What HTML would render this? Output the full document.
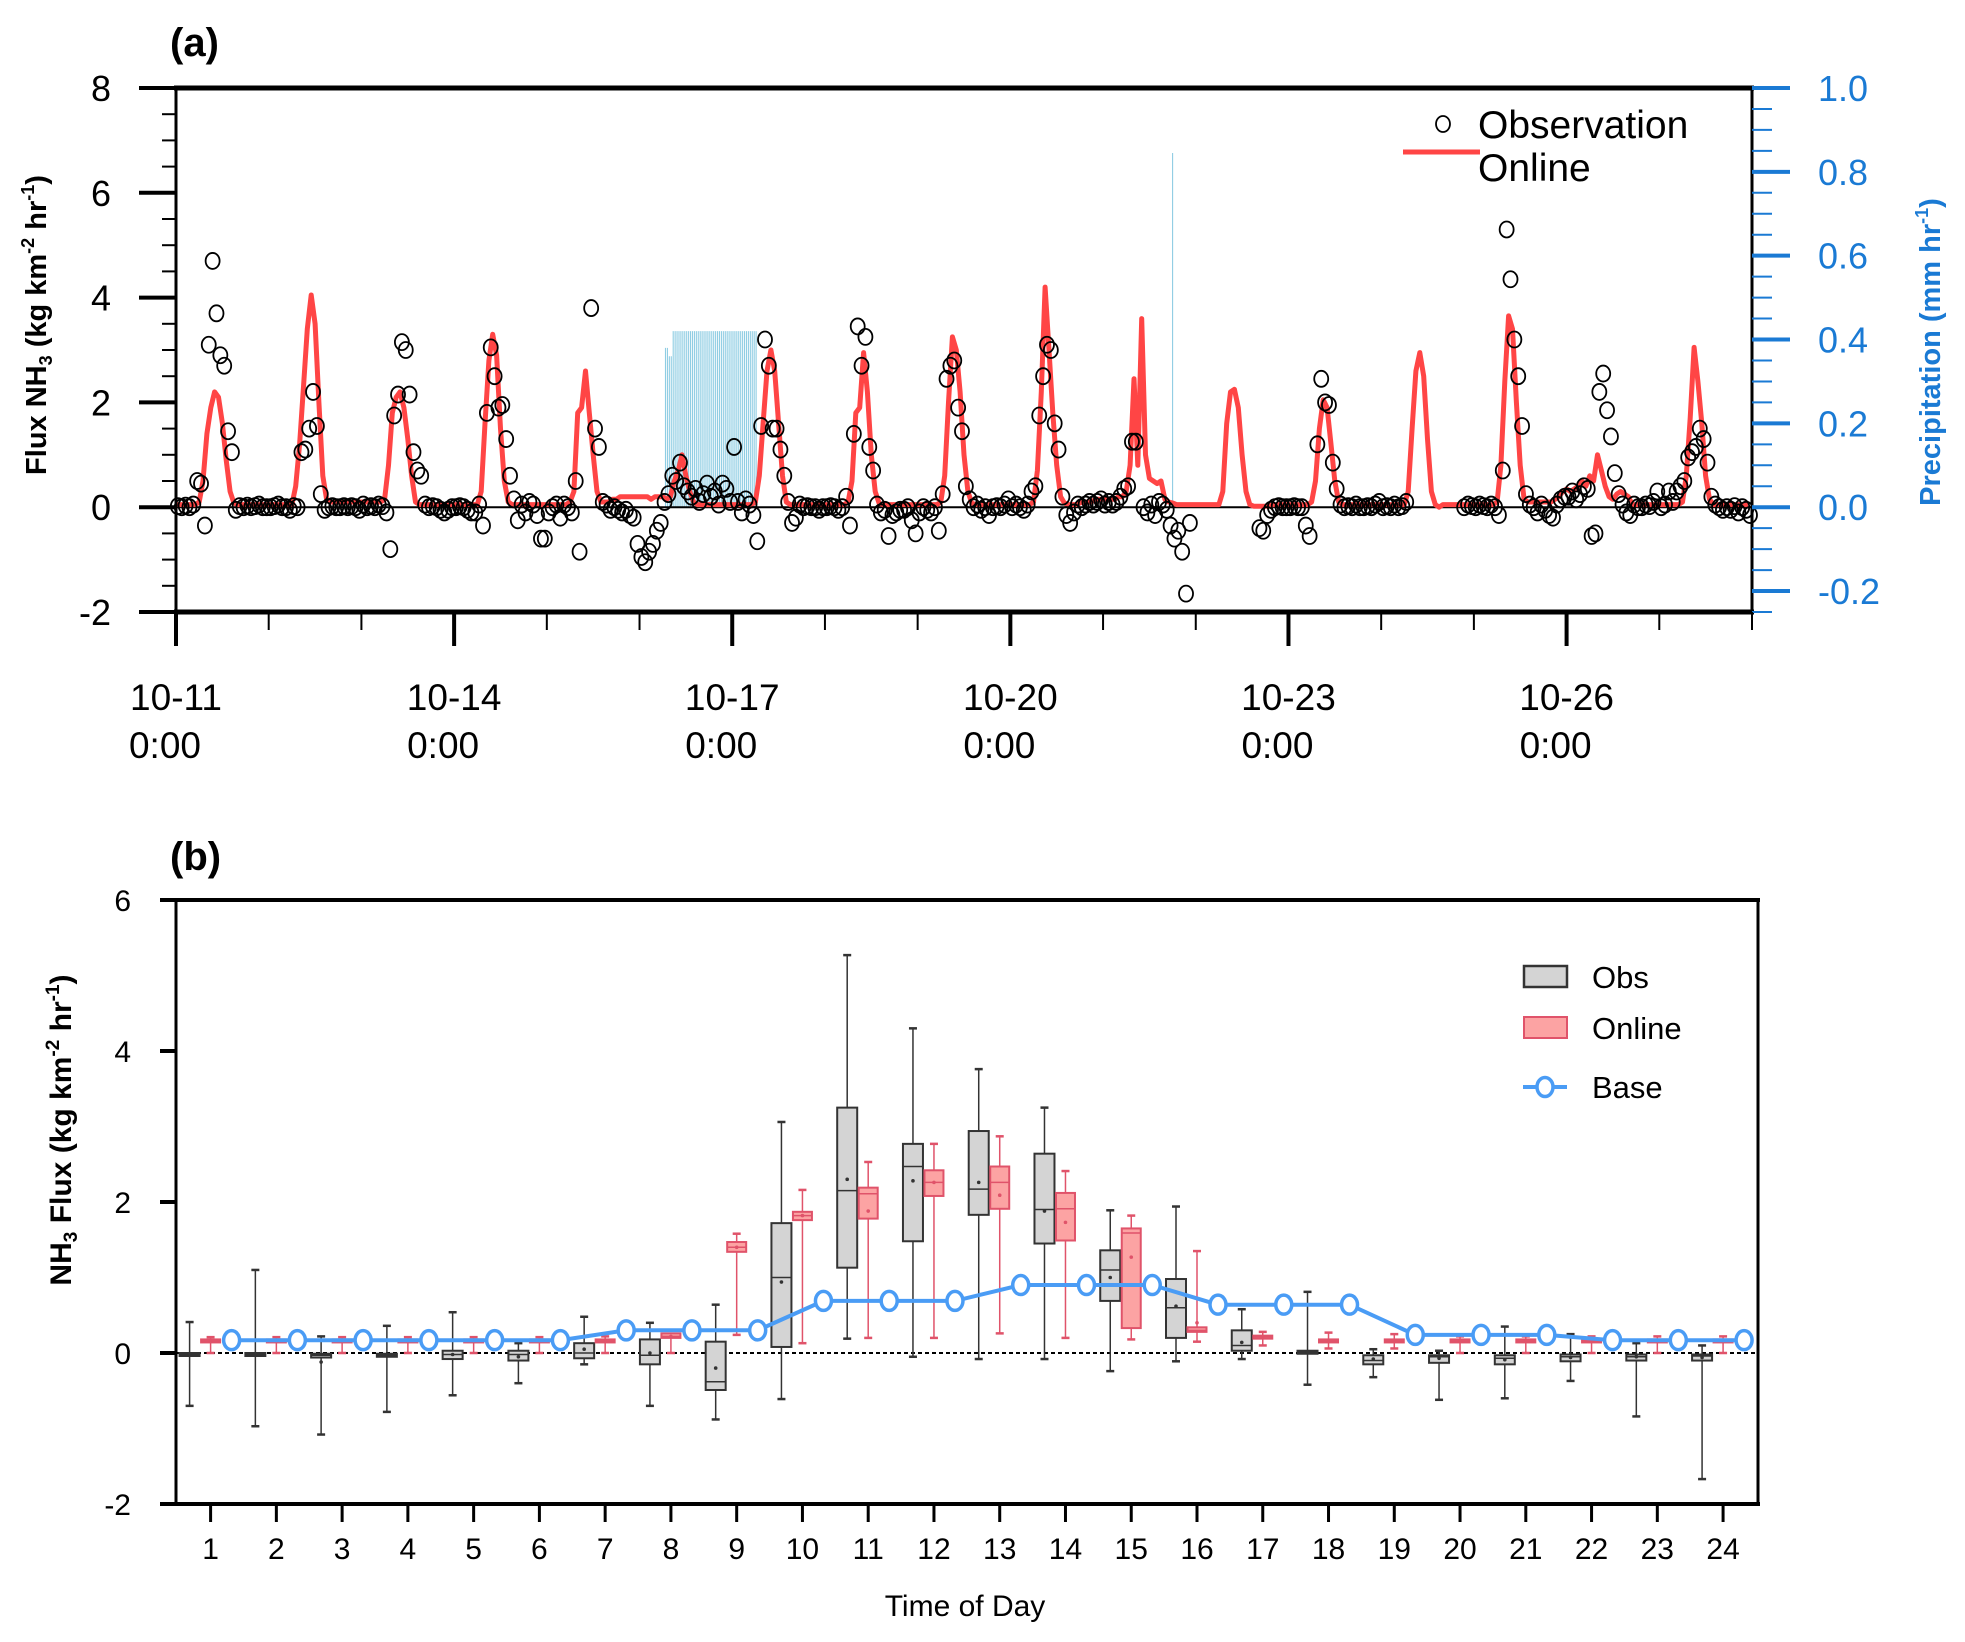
<!DOCTYPE html>
<html><head><meta charset="utf-8"><style>
html,body{margin:0;padding:0;background:#fff;}
svg{display:block;font-family:"Liberation Sans",Arial,sans-serif;}
</style></head><body>
<svg id="chart" width="1965" height="1642" viewBox="0 0 1965 1642" xmlns="http://www.w3.org/2000/svg">
<g id="pa"></g>
<g id="pb"></g>
</svg>
<script>
// ---------- Panel (a) data ----------
const dayLabels = ["10-11","10-14","10-17","10-20","10-23","10-26"];
const leftTicks = [8,6,4,2,0,-2];
const rightTicks = ["1.0","0.8","0.6","0.4","0.2","0.0","-0.2"];
const online = [
[0.05,0.05,0.05,0.05,0.05,0.05,0.1,0.5,1.4,1.9,2.2,2.1,1.6,0.9,0.3,0.08,0.05,0.05,0.05,0.05,0.05,0.05,0.05,0.05],
[0.05,0.05,0.05,0.05,0.05,0.05,0.05,0.4,1.2,2.3,3.4,4.05,3.5,2.0,0.6,0.15,0.1,0.1,0.1,0.1,0.1,0.1,0.1,0.1],
[0.1,0.1,0.1,0.1,0.1,0.1,0.15,0.8,1.8,2.1,2.2,1.9,1.3,0.6,0.1,0.05,0.05,0.05,0.05,0.05,0.05,0.05,0.05,0.05],
[0.05,0.05,0.05,0.05,0.05,0.05,0.05,0.3,1.6,2.8,3.3,2.9,1.5,0.5,0.1,0.05,0.05,0.05,0.05,0.05,0.05,0.05,0.05,0.05],
[0.05,0.05,0.05,0.05,0.05,0.05,0.1,0.3,1.8,1.9,2.6,1.8,1.0,0.3,0.1,0.1,0.1,0.15,0.15,0.2,0.2,0.2,0.2,0.2],
[0.2,0.2,0.2,0.15,0.2,0.2,0.2,0.15,0.2,0.5,0.7,1.0,0.6,0.3,0.1,0.05,0.05,0.05,0.05,0.05,0.05,0.05,0.05,0.05],
[0.05,0.05,0.05,0.05,0.05,0.05,0.1,0.6,1.6,2.6,3.0,2.6,1.6,0.6,0.1,0.05,0.05,0.05,0.05,0.05,0.05,0.05,0.05,0.05],
[0.05,0.05,0.05,0.05,0.05,0.05,0.1,0.5,1.8,1.9,2.95,2.2,1.0,0.3,0.08,0.05,0.05,0.05,0.05,0.05,0.05,0.05,0.05,0.05],
[0.05,0.05,0.05,0.05,0.05,0.05,0.1,0.6,2.0,3.25,3.0,2.2,1.0,0.3,0.08,0.05,0.05,0.05,0.05,0.05,0.05,0.05,0.05,0.05],
[0.05,0.05,0.05,0.05,0.05,0.05,0.1,0.7,2.2,4.2,3.0,1.8,0.8,0.2,0.08,0.05,0.05,0.05,0.08,0.1,0.1,0.1,0.15,0.15],
[0.15,0.15,0.15,0.15,0.2,0.2,0.3,0.8,2.45,0.8,3.6,1.0,0.55,0.5,0.45,0.5,0.15,0.1,0.08,0.05,0.05,0.05,0.05,0.05],
[0.05,0.05,0.05,0.05,0.05,0.05,0.05,0.3,1.6,2.2,2.25,1.9,1.0,0.3,0.05,0.02,0.02,0.02,0.02,0.02,0.05,0.05,0.05,0.05],
[0.05,0.05,0.05,0.05,0.05,0.05,0.1,0.5,1.5,2.05,1.9,1.2,0.5,0.1,0.05,0.05,0.05,0.05,0.05,0.05,0.05,0.05,0.05,0.05],
[0.05,0.05,0.05,0.05,0.05,0.05,0.05,0.3,1.5,2.6,2.95,2.5,1.3,0.3,0.05,0.0,0.05,0.05,0.05,0.05,0.05,0.05,0.05,0.05],
[0.05,0.05,0.05,0.05,0.05,0.05,0.1,0.8,2.4,3.65,3.4,2.0,0.8,0.15,0.1,0.1,0.1,0.1,0.1,0.1,0.1,0.15,0.2,0.3],
[0.35,0.3,0.35,0.4,0.5,0.4,0.6,0.5,1.0,0.7,0.4,0.2,0.15,0.25,0.3,0.25,0.2,0.05,0.05,0.05,0.05,0.05,0.05,0.05],
[0.05,0.05,0.05,0.05,0.05,0.05,0.1,0.6,1.7,3.05,2.4,1.6,0.6,0.15,0.05,0.05,0.05,0.05,0.05,0.05,0.05,0.05,0.05,0.05]
];
const obs = [
[0.02,0.0,0.03,0.0,0.05,0.5,0.45,-0.35,3.1,4.7,3.7,2.9,2.7,1.45,1.05,-0.05,0.02,0.0,0.03,0.0,0.02,0.05,0.0,0.0],
[0.0,0.02,0.05,0.0,0.0,-0.05,0.02,0.0,1.05,1.1,1.5,2.2,1.55,0.25,-0.05,0.0,0.02,0.0,0.0,0.02,0.0,0.02,0.0,-0.05],
[0.05,0.0,0.02,0.0,0.05,0.02,-0.1,-0.8,1.75,2.15,3.15,3.0,2.15,1.05,0.7,0.6,0.05,0.0,0.02,0.0,-0.05,-0.1,-0.05,0.0],
[0.0,0.02,0.0,-0.05,-0.1,-0.1,0.05,-0.35,1.8,3.05,2.5,1.9,1.95,1.3,0.6,0.15,-0.25,0.05,-0.1,0.1,0.05,-0.15,-0.6,-0.6],
[-0.1,0.0,0.05,-0.2,0.05,0.0,-0.1,0.5,-0.85,null,null,3.8,1.5,1.15,0.1,0.05,-0.05,0.0,-0.05,-0.1,-0.05,-0.15,-0.2,-0.7],
[-0.95,-1.05,-0.85,-0.7,-0.45,-0.3,0.1,0.25,0.6,0.5,0.85,0.4,0.3,0.2,0.35,0.1,0.25,0.45,0.2,0.3,0.05,0.45,0.35,0.1],
[1.15,0.1,-0.1,0.15,0.05,-0.15,-0.65,1.55,3.2,2.7,1.5,1.5,1.1,0.6,0.1,-0.3,-0.2,0.05,0.0,0.02,0.0,0.0,-0.05,0.0],
[0.0,0.02,0.0,-0.05,0.0,0.2,-0.35,1.4,3.45,2.7,3.25,1.15,0.7,0.05,-0.1,-0.05,-0.55,-0.15,-0.1,-0.05,-0.05,0.0,-0.25,-0.5],
[-0.1,0.0,-0.05,-0.1,0.0,-0.45,0.25,2.45,2.7,2.8,1.9,1.45,0.4,0.15,0.0,0.05,-0.05,0.0,-0.15,0.0,0.02,0.0,0.05,0.15],
[0.0,0.05,0.0,-0.05,0.05,0.3,0.4,1.75,2.5,3.1,3.0,1.6,1.1,0.2,-0.15,-0.3,-0.1,0.05,0.0,0.05,0.1,0.05,0.1,0.15],
[0.05,0.1,0.05,0.1,0.2,0.35,0.4,1.25,1.25,null,0.0,-0.1,0.05,-0.15,0.1,0.05,-0.05,-0.35,-0.6,-0.45,-0.85,-1.65,-0.3,null],
[null,null,null,null,null,null,null,null,null,null,null,null,null,null,null,null,-0.4,-0.45,-0.15,-0.05,0.0,0.02,0.0,0.0],
[0.0,0.02,0.0,0.0,-0.35,-0.55,null,1.2,2.45,2.0,1.95,0.85,0.35,0.05,0.0,0.02,0.0,0.05,0.0,0.0,0.02,0.0,0.05,0.1],
[0.0,0.02,0.0,0.05,0.0,0.02,0.1,null,null,null,null,null,null,null,null,null,null,null,null,null,null,0.0,0.05,0.02],
[0.0,0.05,0.02,0.0,0.05,0.0,-0.15,0.7,5.3,4.35,3.2,2.5,1.55,0.25,0.05,0.0,-0.1,0.05,-0.05,-0.15,-0.2,0.05,0.15,0.2],
[0.2,0.3,0.15,0.25,0.4,0.35,-0.55,-0.5,2.2,2.55,1.85,1.35,0.65,0.25,0.05,-0.1,-0.15,0.05,0.0,0.0,0.05,0.02,0.1,0.3],
[0.0,0.05,0.3,0.1,0.3,0.4,0.5,0.95,1.05,1.15,1.5,1.3,0.85,0.2,0.05,0.0,-0.05,0.0,-0.05,0.02,-0.1,0.0,-0.05,-0.15]
];
const rainStart = 5.28;   // day offset from 10-11 0:00
const rainStep = 0.0208;  // days (30 min)
const rainVals = [0.38,0.38,0.36,0.36,0.42,0.42,0.42,0.42,0.42,0.42,0.42,0.42,0.42,0.42,0.42,0.42,0.42,0.42,0.42,0.42,0.42,0.42,0.42,0.42,0.42,0.42,0.42,0.42,0.42,0.42,0.42,0.42,0.42,0.42,0.42,0.42,0.42,0.42,0.42,0.42,0.42,0.42,0.42,0.42,0.42,0.42,0.42,0.42];
const rainSpikeDay = [10.75];
const rainSpikeVal = [0.845];

// ---------- Panel (b) data ----------
const hours = [1,2,3,4,5,6,7,8,9,10,11,12,13,14,15,16,17,18,19,20,21,22,23,24];
const bTicks = [6,4,2,0,-2];
const obsMin = [-0.70,-0.97,-1.08,-0.78,-0.56,-0.40,-0.15,-0.70,-0.88,-0.61,0.19,-0.05,-0.08,-0.08,-0.24,-0.11,-0.08,-0.42,-0.32,-0.62,-0.60,-0.37,-0.84,-1.67];
const obsQ1 = [-0.03,-0.03,-0.06,-0.05,-0.08,-0.10,-0.07,-0.15,-0.49,0.08,1.13,1.48,1.83,1.45,0.69,0.20,0.03,-0.01,-0.15,-0.13,-0.15,-0.11,-0.10,-0.10];
const obsMed = [-0.02,-0.02,-0.03,-0.03,-0.02,-0.02,0.0,-0.03,-0.38,1.0,2.15,2.47,2.17,1.90,1.10,0.60,0.10,0.01,-0.10,-0.05,-0.07,-0.05,-0.05,-0.04];
const obsQ3 = [0.0,0.0,-0.01,-0.01,0.03,0.03,0.13,0.18,0.15,1.72,3.25,2.77,2.94,2.64,1.36,0.98,0.30,0.03,-0.03,-0.03,-0.03,-0.02,-0.02,-0.02];
const obsMax = [0.41,1.10,0.22,0.36,0.54,0.13,0.48,0.40,0.64,3.06,5.27,4.30,3.76,3.25,1.89,1.94,0.58,0.81,0.05,0.03,0.35,0.25,0.13,0.10];
const obsMean = [-0.01,-0.02,-0.12,-0.03,-0.02,-0.05,0.05,0.0,-0.20,0.94,2.30,2.28,2.26,1.88,1.00,0.62,0.14,0.01,-0.08,-0.07,-0.09,-0.06,-0.05,-0.06];
const onlMin = [0,0,0,0,0,0,0,0,0.24,0.13,0.20,0.20,0.26,0.20,0.18,0.15,0.10,0.06,0.06,0,0,0,0,0];
const onlQ1 = [0.14,0.14,0.14,0.14,0.14,0.14,0.14,0.20,1.34,1.76,1.78,2.08,1.91,1.49,0.33,0.28,0.19,0.14,0.14,0.14,0.14,0.14,0.14,0.14];
const onlMed = [0.16,0.16,0.16,0.16,0.16,0.16,0.16,0.22,1.40,1.82,2.11,2.26,2.26,1.91,1.59,0.30,0.21,0.16,0.16,0.16,0.16,0.16,0.16,0.16];
const onlQ3 = [0.18,0.18,0.18,0.18,0.18,0.18,0.18,0.26,1.47,1.87,2.19,2.42,2.47,2.12,1.65,0.34,0.23,0.18,0.18,0.18,0.18,0.18,0.18,0.18];
const onlMax = [0.21,0.21,0.21,0.21,0.21,0.21,0.22,0.25,1.58,2.16,2.53,2.77,2.87,2.41,1.82,1.35,0.28,0.27,0.25,0.22,0.22,0.22,0.22,0.22];
const onlMean = [0.16,0.16,0.16,0.16,0.16,0.16,0.16,0.22,1.40,1.82,1.88,2.26,2.09,1.73,1.27,0.40,0.21,0.16,0.16,0.16,0.16,0.16,0.16,0.16];
const baseVals = [0.17,0.17,0.17,0.17,0.17,0.17,0.30,0.30,0.30,0.69,0.69,0.69,0.90,0.90,0.90,0.64,0.64,0.64,0.24,0.24,0.24,0.17,0.17,0.17];

const NS = "http://www.w3.org/2000/svg";
function mk(parent, tag, attrs, text) {
  const e = document.createElementNS(NS, tag);
  for (const k in attrs) e.setAttribute(k, attrs[k]);
  if (text !== undefined) e.textContent = text;
  parent.appendChild(e);
  return e;
}

// ======== Panel (a) ========
(function(){
  const g = document.getElementById('pa');
  const L = 176, R = 1752, T = 88, B = 612;
  const yA = v => T + (8 - v) * (B - T) / 10;
  const zeroY = yA(0);
  const yR = v => zeroY - v * (zeroY - T);
  const xA = d => L + d * (R - L) / 17;

  let t = mk(g, 'text', {x:170, y:56, 'font-size':40, 'font-weight':'bold'}, '(a)');
  
  

  const rg = mk(g, 'g', {stroke:'#8fcde3', 'stroke-width':1.1});
  
  
  rainVals.forEach((v, i) => {
    const x = xA(rainStart + i * rainStep);
    const l = mk(rg, 'line', {x1:x, x2:x, y1:zeroY, y2:yR(v)});
    
    
  });
  rainSpikeDay.forEach((d, i) => {
    const x = xA(d);
    const l = mk(rg, 'line', {x1:x, x2:x, y1:zeroY, y2:yR(rainSpikeVal[i])});
    
    
  });

  const zl = mk(g, 'line', {x1:L, x2:R, y1:zeroY, y2:zeroY, stroke:'#000', 'stroke-width':2});
  
  

  const pts = [];
  online.forEach((day, d) => day.forEach((v, h) => pts.push(xA(d + h / 24).toFixed(1) + ',' + yA(v).toFixed(1))));
  const pl = mk(g, 'polyline', {points:pts.join(' '), fill:'none', stroke:'#ff4545', 'stroke-width':5, 'stroke-linejoin':'round'});
  
  

  const og = mk(g, 'g', {fill:'none', stroke:'#000', 'stroke-width':1.8});
  
  
  obs.forEach((day, d) => day.forEach((v, h) => {
    if (v === null) return;
    const c = mk(og, 'ellipse', {cx:xA(d + h / 24 + 0.02), cy:yA(v), rx:7, ry:8});
    
    
  }));

  mk(g, 'line', {x1:L, x2:L, y1:T, y2:B, stroke:'#000', 'stroke-width':3});
  mk(g, 'line', {x1:R, x2:R, y1:T, y2:B, stroke:'#000', 'stroke-width':3});
  mk(g, 'line', {x1:L-2, x2:R+2, y1:T, y2:T, stroke:'#000', 'stroke-width':5});
  mk(g, 'line', {x1:L-2, x2:R+2, y1:B, y2:B, stroke:'#000', 'stroke-width':5});

  const la = mk(g, 'g', {});
  
  
  for (let v = -2; v <= 8; v += 0.5) {
    const maj = Number.isInteger(v) && v % 2 === 0;
    mk(la, 'line', {x1:L - (maj ? 37 : 14), x2:L, y1:yA(v), y2:yA(v), stroke:'#000', 'stroke-width':maj ? 4 : 2});
  }
  leftTicks.forEach(v => {
    const tt = mk(la, 'text', {x:111, y:yA(v) + 13, 'font-size':36, 'text-anchor':'end'}, String(v));
    
    
  });
  t = mk(g, 'text', {transform:'translate(46,325) rotate(-90)', 'font-size':29, 'font-weight':'bold', 'text-anchor':'middle'});
  t.innerHTML = 'Flux NH<tspan font-size="18" dy="6">3</tspan><tspan dy="-6"> (kg km</tspan><tspan font-size="18" dy="-12">-2</tspan><tspan dy="12"> hr</tspan><tspan font-size="18" dy="-12">-1</tspan><tspan dy="12">)</tspan>';
  
  

  const ra = mk(g, 'g', {});
  
  
  for (let i = -5; i <= 20; i++) {
    const v = i * 0.05;
    if (yR(v) > B + 1) continue;
    const maj = i % 4 === 0;
    mk(ra, 'line', {x1:R, x2:R + (maj ? 38 : 20), y1:yR(v), y2:yR(v), stroke:'#1a7ad4', 'stroke-width':maj ? 4 : 2});
  }
  rightTicks.forEach(s => {
    const tt = mk(ra, 'text', {x:1818, y:yR(parseFloat(s)) + 13, 'font-size':36, fill:'#1a7ad4'}, s);
    
    
  });
  t = mk(g, 'text', {transform:'translate(1940,352) rotate(-90)', 'font-size':29, 'font-weight':'bold', 'text-anchor':'middle', fill:'#1a7ad4'});
  t.innerHTML = 'Precipitation (mm hr<tspan font-size="18" dy="-12">-1</tspan><tspan dy="12">)</tspan>';
  
  

  const xa = mk(g, 'g', {});
  
  
  for (let d = 0; d <= 17; d++) {
    const maj = d % 3 === 0;
    mk(xa, 'line', {x1:xA(d), x2:xA(d), y1:B, y2:B + (maj ? 34 : 18), stroke:'#000', 'stroke-width':maj ? 4 : 2});
  }
  dayLabels.forEach((s, i) => {
    const x = xA(i * 3);
    const a = mk(xa, 'text', {x:x, y:710, 'font-size':37, 'text-anchor':'middle'}, s);
    
    
    const b = mk(xa, 'text', {x:x - 11, y:758, 'font-size':37, 'text-anchor':'middle'}, '0:00');
    
    
  });

  const lg = mk(g, 'g', {});
  
  
  mk(lg, 'ellipse', {cx:1443, cy:124, rx:7, ry:8, fill:'none', stroke:'#000', 'stroke-width':1.8});
  t = mk(lg, 'text', {x:1478, y:138, 'font-size':39}, 'Observation');
  
  
  mk(lg, 'line', {x1:1403, x2:1480, y1:152, y2:152, stroke:'#ff4545', 'stroke-width':5});
  t = mk(lg, 'text', {x:1478, y:181, 'font-size':39}, 'Online');
  
  
})();

// ======== Panel (b) ========
(function(){
  const g = document.getElementById('pb');
  const L = 176, R = 1758, T = 900, B = 1504;
  const yB = v => T + (6 - v) * (B - T) / 8;
  const xH = h => 210.6 + (h - 1) * 65.76;

  let t = mk(g, 'text', {x:170, y:870, 'font-size':40, 'font-weight':'bold'}, '(b)');
  
  

  const z = mk(g, 'line', {x1:L, x2:R, y1:yB(0), y2:yB(0), stroke:'#000', 'stroke-width':2, 'stroke-dasharray':'4,3'});
  
  

  function box(cx, w, mn, q1, md, q3, mx, mean, fill, stroke, sw, name) {
    const bg = mk(g, 'g', {});
    
    
    mk(bg, 'line', {x1:cx, x2:cx, y1:yB(mx), y2:yB(q3), stroke:stroke, 'stroke-width':sw});
    mk(bg, 'line', {x1:cx, x2:cx, y1:yB(q1), y2:yB(mn), stroke:stroke, 'stroke-width':sw});
    mk(bg, 'line', {x1:cx - 4, x2:cx + 4, y1:yB(mx), y2:yB(mx), stroke:stroke, 'stroke-width':2.5});
    mk(bg, 'line', {x1:cx - 4, x2:cx + 4, y1:yB(mn), y2:yB(mn), stroke:stroke, 'stroke-width':2.5});
    const h = Math.max(yB(q1) - yB(q3), 3);
    mk(bg, 'rect', {x:cx - w / 2, y:yB(q3), width:w, height:h, fill:fill, stroke:stroke, 'stroke-width':2});
    mk(bg, 'line', {x1:cx - w / 2, x2:cx + w / 2, y1:yB(md), y2:yB(md), stroke:stroke, 'stroke-width':1.5});
    mk(bg, 'circle', {cx:cx, cy:yB(mean), r:1.8, fill:stroke});
  }
  hours.forEach((h, i) => {
    box(xH(h) - 21, 20, obsMin[i], obsQ1[i], obsMed[i], obsQ3[i], obsMax[i], obsMean[i], '#d4d4d4', '#333', 1.5, 'obs-box-' + h);
    box(xH(h), 19, onlMin[i], onlQ1[i], onlMed[i], onlQ3[i], onlMax[i], onlMean[i], '#fca3a3', '#e0536a', 1.5, 'online-box-' + h);
  });

  const bpts = hours.map((h, i) => (xH(h) + 21).toFixed(1) + ',' + yB(baseVals[i]).toFixed(1));
  const bl = mk(g, 'polyline', {points:bpts.join(' '), fill:'none', stroke:'#4a9cf5', 'stroke-width':4});
  
  
  hours.forEach((h, i) => {
    const c = mk(g, 'ellipse', {cx:xH(h) + 21, cy:yB(baseVals[i]), rx:8, ry:9.5, fill:'#fff', stroke:'#4a9cf5', 'stroke-width':3.5});
    
    
  });

  mk(g, 'line', {x1:L, x2:L, y1:T, y2:B, stroke:'#000', 'stroke-width':3});
  mk(g, 'line', {x1:R, x2:R, y1:T, y2:B, stroke:'#000', 'stroke-width':3});
  mk(g, 'line', {x1:L-2, x2:R+2, y1:T, y2:T, stroke:'#000', 'stroke-width':4});
  mk(g, 'line', {x1:L-2, x2:R+2, y1:B, y2:B, stroke:'#000', 'stroke-width':4});

  const ya = mk(g, 'g', {});
  
  
  bTicks.forEach(v => {
    mk(ya, 'line', {x1:L - 16, x2:L, y1:yB(v), y2:yB(v), stroke:'#000', 'stroke-width':4});
    const tt = mk(ya, 'text', {x:131, y:yB(v) + 11, 'font-size':30, 'text-anchor':'end'}, String(v));
    
    
  });
  t = mk(g, 'text', {transform:'translate(71,1130) rotate(-90)', 'font-size':30, 'font-weight':'bold', 'text-anchor':'middle'});
  t.innerHTML = 'NH<tspan font-size="19" dy="6">3</tspan><tspan dy="-6"> Flux (kg km</tspan><tspan font-size="19" dy="-12">-2</tspan><tspan dy="12"> hr</tspan><tspan font-size="19" dy="-12">-1</tspan><tspan dy="12">)</tspan>';
  
  

  const xa = mk(g, 'g', {});
  
  
  hours.forEach(h => {
    mk(xa, 'line', {x1:xH(h), x2:xH(h), y1:B, y2:B + 18, stroke:'#000', 'stroke-width':3});
    const tt = mk(xa, 'text', {x:xH(h), y:1559, 'font-size':30, 'text-anchor':'middle'}, String(h));
    
    
  });
  t = mk(g, 'text', {x:965, y:1616, 'font-size':30, 'text-anchor':'middle'}, 'Time of Day');
  
  

  const lg = mk(g, 'g', {});
  
  
  mk(lg, 'rect', {x:1524, y:966, width:43, height:21, fill:'#d4d4d4', stroke:'#333', 'stroke-width':2.5});
  t = mk(lg, 'text', {x:1592, y:988, 'font-size':31}, 'Obs');
  
  
  mk(lg, 'rect', {x:1524, y:1017, width:43, height:21, fill:'#fca3a3', stroke:'#e0536a', 'stroke-width':2});
  t = mk(lg, 'text', {x:1592, y:1039, 'font-size':31}, 'Online');
  
  
  mk(lg, 'line', {x1:1523, x2:1567, y1:1087, y2:1087, stroke:'#4a9cf5', 'stroke-width':4});
  mk(lg, 'ellipse', {cx:1545, cy:1087, rx:8, ry:9.5, fill:'#fff', stroke:'#4a9cf5', 'stroke-width':3.5});
  t = mk(lg, 'text', {x:1592, y:1098, 'font-size':31}, 'Base');
  
  
})();
</script>
</body></html>
